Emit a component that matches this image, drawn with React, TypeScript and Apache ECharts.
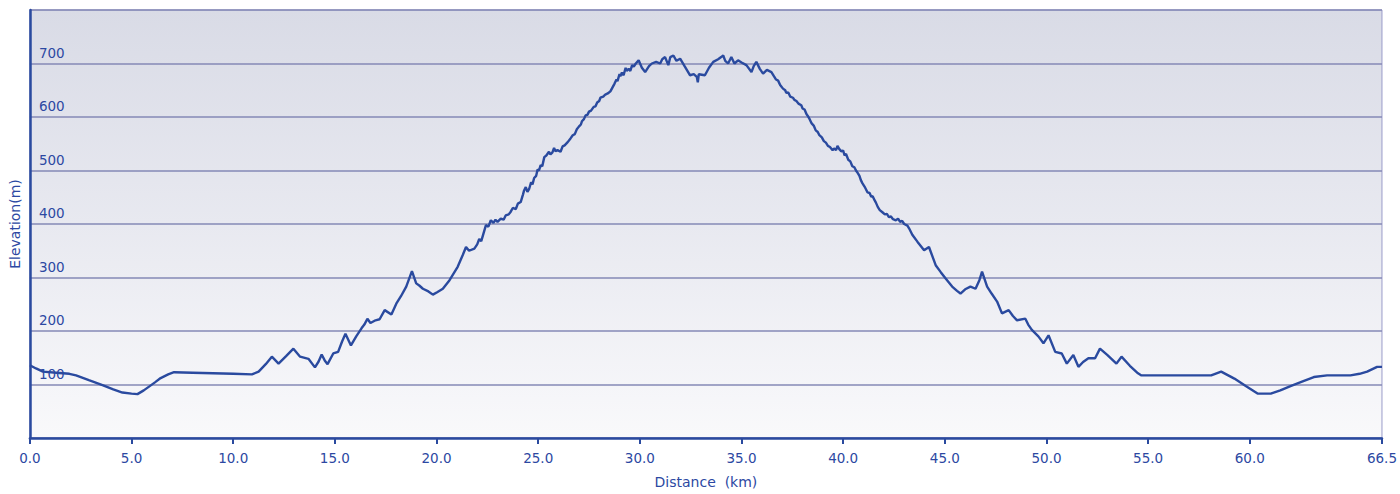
import React, { useEffect, useRef } from "react";
import * as echarts from "echarts";

// Route profile, [distance km, elevation m], split into sections
const approach: [number, number][] = [
  [0, 136], [0.3, 130], [0.64, 124], [1.3, 122], [1.94, 120], [2.27, 117], [2.9, 108], [3.57, 99], [4.1, 91],
  [4.55, 85], [5.0, 83], [5.29, 82], [5.6, 89], [5.86, 96], [6.15, 104], [6.43, 112], [6.8, 119], [7.09, 123],
  [8, 122], [9, 121], [10, 120], [10.92, 119], [11.25, 124], [11.6, 138], [11.9, 152], [12.23, 139], [12.6, 153],
  [12.96, 167], [13.29, 152], [13.7, 148], [14.02, 132], [14.2, 143], [14.35, 156], [14.5, 145], [14.64, 138],
  [14.92, 158], [15.16, 161], [15.35, 180], [15.52, 195], [15.79, 173], [16.05, 190], [16.31, 205], [16.45, 212],
  [16.6, 223], [16.75, 215], [17.0, 220], [17.2, 222], [17.45, 239], [17.78, 231], [18.02, 251], [18.25, 265],
  [18.51, 283], [18.79, 312], [19.0, 289], [19.15, 285], [19.33, 279], [19.6, 274], [19.82, 268], [20.05, 273],
  [20.31, 279], [20.64, 295], [21.04, 320], [21.29, 342], [21.45, 357], [21.6, 350],
];

const climb: [number, number][] = [
  [21.86, 354], [22.0, 362], [22.1, 372], [22.2, 368], [22.43, 398], [22.55, 395], [22.67, 407], [22.8, 402],
  [22.9, 408], [23.0, 404], [23.16, 410], [23.3, 408], [23.4, 416], [23.55, 418], [23.65, 423], [23.75, 430],
  [23.9, 428], [24.0, 438], [24.14, 441], [24.25, 455], [24.3, 462], [24.39, 469], [24.47, 460], [24.55, 465],
  [24.65, 478], [24.72, 474], [24.8, 486], [24.9, 490], [24.97, 502], [25.04, 500], [25.12, 510], [25.2, 508],
  [25.3, 525], [25.4, 528], [25.53, 535], [25.6, 530], [25.7, 534], [25.78, 542], [25.85, 536], [25.95, 538],
  [26.1, 535], [26.2, 545], [26.3, 547], [26.45, 553], [26.59, 560], [26.7, 566], [26.8, 568], [26.9, 577],
  [27.0, 582], [27.1, 586], [27.15, 592], [27.25, 596], [27.33, 603], [27.42, 604], [27.5, 610], [27.6, 612],
  [27.73, 619], [27.82, 620], [27.9, 627], [28.0, 630], [28.06, 636], [28.2, 638], [28.3, 642], [28.42, 644],
  [28.55, 648], [28.65, 655], [28.75, 662], [28.85, 670], [28.9, 667], [29.0, 680], [29.04, 676], [29.12, 683],
  [29.2, 678], [29.3, 692], [29.35, 686], [29.45, 690], [29.53, 686], [29.62, 697], [29.7, 694], [29.8, 700],
];

const summit: [number, number][] = [
  [29.94, 706], [30.1, 692], [30.26, 684], [30.45, 695], [30.59, 700], [30.8, 703], [31.0, 700], [31.1, 708],
  [31.24, 712], [31.4, 697], [31.5, 712], [31.65, 715], [31.8, 705], [31.98, 709], [32.2, 695], [32.47, 678],
  [32.65, 680], [32.8, 675], [32.85, 665], [32.9, 680], [33.2, 678], [33.4, 692], [33.61, 703], [33.85, 708],
  [34.0, 712], [34.1, 715], [34.2, 705], [34.34, 700], [34.5, 712], [34.65, 700], [34.83, 706], [35.0, 702],
  [35.24, 697], [35.49, 684], [35.6, 695], [35.73, 703], [35.9, 690], [36.06, 681], [36.25, 688],
];

const descent: [number, number][] = [
  [36.47, 684], [36.6, 676], [36.7, 670], [36.8, 668], [36.9, 660], [37.04, 653], [37.15, 650], [37.2, 645],
  [37.3, 646], [37.4, 638], [37.53, 636], [37.6, 632], [37.7, 630], [37.8, 625], [37.94, 622], [38.0, 616],
  [38.1, 614], [38.2, 605], [38.26, 602], [38.35, 596], [38.45, 588], [38.55, 584], [38.65, 575], [38.75, 572],
  [38.83, 566], [38.95, 562], [39.05, 555], [39.15, 552], [39.25, 546], [39.35, 544], [39.48, 538], [39.55, 541],
  [39.65, 538], [39.72, 546], [39.81, 540], [39.9, 536], [40.0, 537], [40.07, 528], [40.14, 531], [40.25, 520],
  [40.35, 517], [40.45, 508], [40.55, 506], [40.63, 500], [40.72, 495], [40.8, 490], [40.87, 482], [40.95, 476],
  [41.05, 470], [41.12, 465], [41.2, 459], [41.3, 458], [41.38, 451], [41.45, 452], [41.55, 444], [41.61, 440],
  [41.7, 432], [41.8, 426], [41.93, 422], [42.05, 418], [42.15, 419], [42.25, 413], [42.35, 414], [42.45, 409],
  [42.59, 407], [42.7, 410], [42.8, 404], [42.9, 406], [43.0, 400], [43.16, 397], [43.24, 392],
];

const exit: [number, number][] = [
  [43.4, 380], [43.65, 367], [43.98, 351], [44.22, 357], [44.55, 323], [44.8, 310], [45.04, 298], [45.36, 283],
  [45.6, 275], [45.77, 270], [46.0, 278], [46.26, 283], [46.51, 279], [46.7, 295], [46.83, 311], [47.08, 283],
  [47.3, 270], [47.57, 255], [47.81, 233], [48.14, 239], [48.35, 228], [48.55, 220], [48.96, 223], [49.1, 212],
  [49.28, 202], [49.6, 190], [49.85, 177], [50.1, 192], [50.43, 161], [50.75, 158], [51.0, 139], [51.32, 155],
  [51.57, 133], [51.8, 142], [52.06, 149], [52.39, 149], [52.63, 167], [53.0, 155], [53.44, 139], [53.69, 152],
  [54.1, 135], [54.5, 121], [54.67, 117], [56, 117], [57, 117], [58.1, 117], [58.59, 124], [59.24, 111],
  [59.8, 97], [60.38, 83], [61.03, 83], [61.5, 89], [62.0, 97], [62.6, 106], [63.15, 114], [63.8, 117],
  [64.46, 117], [64.95, 117], [65.4, 120], [65.77, 124], [66.26, 133], [66.5, 133],
];

const xTickValues: number[] = [0, 5, 10, 15, 20, 25, 30, 35, 40, 45, 50, 55, 60, 66.5];
const yTickValues: number[] = [100, 200, 300, 400, 500, 600, 700];

const TEXT = "#2c48a2";
const LINE = "#2a4a9f";
const FONT = "DejaVu Sans";

export default function App() {
  const ref = useRef<HTMLDivElement>(null);

  useEffect(() => {
    if (!ref.current) return;
    const chart = echarts.init(ref.current, undefined, { renderer: "svg" });
    const data = [...approach, ...climb, ...summit, ...descent, ...exit];
    chart.setOption({
      animation: false,
      backgroundColor: "#ffffff",
      grid: {
        left: 27,
        right: 15,
        top: 10,
        bottom: 53,
        show: true,
        borderColor: "#9a9cc9",
        borderWidth: 1,
        backgroundColor: new echarts.graphic.LinearGradient(0, 0, 0, 1, [
          { offset: 0, color: "#d9dbe6" },
          { offset: 0.5, color: "#e8e9f0" },
          { offset: 1, color: "#f9f9fb" },
        ]),
      },
      xAxis: {
        type: "value",
        min: 0,
        max: 66.5,
        interval: 5,
        name: "Distance  (km)",
        nameLocation: "middle",
        nameGap: 37,
        nameTextStyle: { color: TEXT, fontFamily: FONT, fontSize: 14 },
        axisLine: { show: true, lineStyle: { color: LINE, width: 2.5 } },
        axisTick: {
          show: true,
          length: 6,
          lineStyle: { color: LINE, width: 2 },
          customValues: xTickValues,
        },
        axisLabel: {
          color: TEXT,
          fontFamily: FONT,
          fontSize: 13.5,
          margin: 13,
          customValues: xTickValues,
          formatter: (v: number) => v.toFixed(1),
        },
        splitLine: { show: false },
      },
      yAxis: {
        type: "value",
        min: 0,
        max: 800,
        interval: 100,
        name: "Elevation(m)",
        nameLocation: "middle",
        nameGap: 7,
        nameTextStyle: { color: TEXT, fontFamily: FONT, fontSize: 14 },
        axisLine: { show: true, lineStyle: { color: LINE, width: 2.5 } },
        axisTick: { show: false },
        axisLabel: {
          inside: true,
          color: TEXT,
          fontFamily: FONT,
          fontSize: 13.5,
          margin: 9,
          verticalAlign: "bottom",
          padding: [0, 0, 4, 0],
          customValues: yTickValues,
          formatter: (v: number) => String(v),
        },
        splitLine: { show: true, lineStyle: { color: "#8588b6", width: 1.5 } },
      },
      series: [
        {
          type: "line",
          data,
          showSymbol: false,
          symbol: "none",
          lineStyle: { color: LINE, width: 2.4 },
          z: 3,
        },
      ],
    });
    return () => chart.dispose();
  }, []);

  return (
    <div
      ref={ref}
      style={{ position: "absolute", left: 0, top: 0, width: 1400, height: 494 }}
    />
  );
}
